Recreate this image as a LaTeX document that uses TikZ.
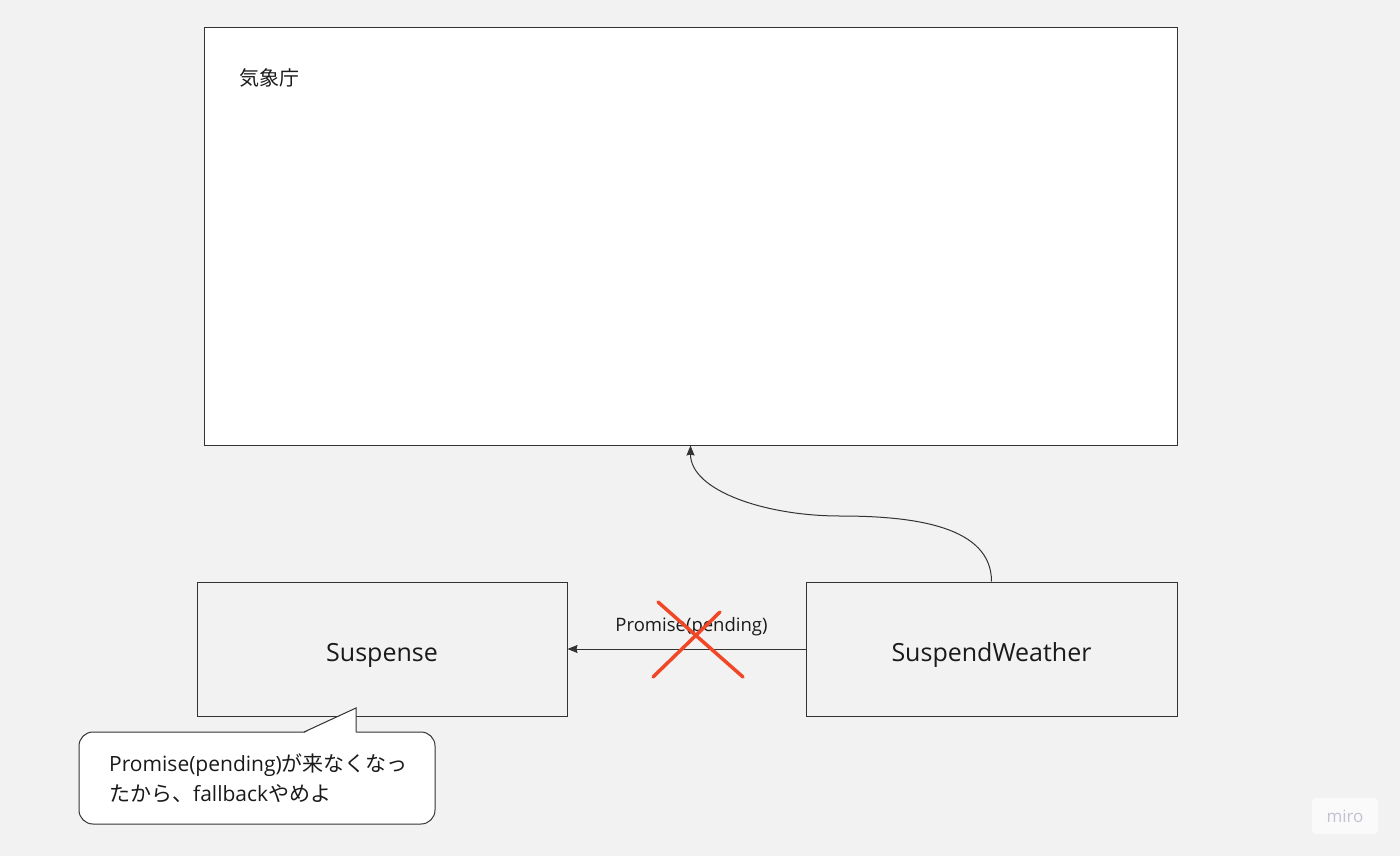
\documentclass[tikz,border=0pt]{standalone}
\usepackage{fontspec}
\setmainfont{Open Sans}
\newfontfamily\jp{Noto Sans CJK JP}
\usetikzlibrary{arrows.meta}
\definecolor{bg}{HTML}{F2F2F2}
\definecolor{ln}{HTML}{333333}
\definecolor{tx}{HTML}{1A1A1A}
\definecolor{xred}{HTML}{F24726}
\definecolor{logotx}{HTML}{C2C2D2}
\begin{document}
\begin{tikzpicture}[x=1pt,y=-1pt]
	\tikzstyle{bx}=[draw=ln, line width=1pt, text=tx, inner sep=0pt]
	\tikzstyle{big}=[font=\fontsize{25}{30}\selectfont, text height=24pt, text depth=0pt]
	\tikzstyle{ar}=[draw=ln, line width=1pt, -{Stealth[length=10pt,width=8pt,inset=1pt]}]
	\tikzstyle{rd}=[draw=xred, line width=3.5pt, line cap=round]

	\fill[bg] (0,0) rectangle (1400,856);
	\useasboundingbox (0,0) rectangle (1400,856);

	\node[bx, fill=white, minimum width=973pt, minimum height=417pt] (jma) at (690.5,236.5) {};
	\node[text=tx, anchor=west, inner sep=0pt] (jmal) at (239,78) {\jp\fontsize{20}{24}\selectfont 気象庁};

	\node[bx, big, minimum width=370pt, minimum height=134pt] (susp) at (382,649) {Suspense};
	\node[bx, big, minimum width=371pt, minimum height=134pt] (sw) [right of=susp, node distance=609.5pt] {SuspendWeather};

	\draw[ar] (sw.west) -- (susp.east)
		node[midway, yshift=22pt, xshift=5pt, text=tx, font=\fontsize{18.5}{22}\selectfont] (pl) {Promise(pending)};

	\coordinate (mid) at (840,516);
	\draw[ar] (sw.north) .. controls +(0,-55) and +(75,0) .. (mid) .. controls +(-75,0) and +(0,45) .. (jma.south);

	% red cross on the arrow
	\draw[rd] (658,602) -- (743,677);
	\draw[rd] (720,612) -- (653,677);

	% callout
	\node[bx, fill=white, rounded corners=14pt, minimum width=356pt, minimum height=92pt, align=left,
		font=\fontsize{21}{30}\selectfont] (co) at (257,778)
		{\hspace*{3pt}Promise(pending){\jp が来なくなっ}\\\hspace*{3pt}{\jp たから、}fallback{\jp やめよ}};
	\coordinate (tl) at (304,732);
	\coordinate (tip) at (356,708);
	\coordinate (tr) at (356,732);
	\fill[white] ([yshift=-1.2pt]tl) -- (tip) -- ([yshift=-1.2pt]tr) -- cycle;
	\draw[ln, line width=1pt, line join=miter] (tl) -- (tip) -- (tr);

	\node[fill=white!60!bg, rounded corners=4pt, minimum width=66pt, minimum height=36pt, text=logotx,
		font=\fontsize{17}{20}\selectfont] (logo) at (1345,816) {miro};
\end{tikzpicture}
\end{document}
